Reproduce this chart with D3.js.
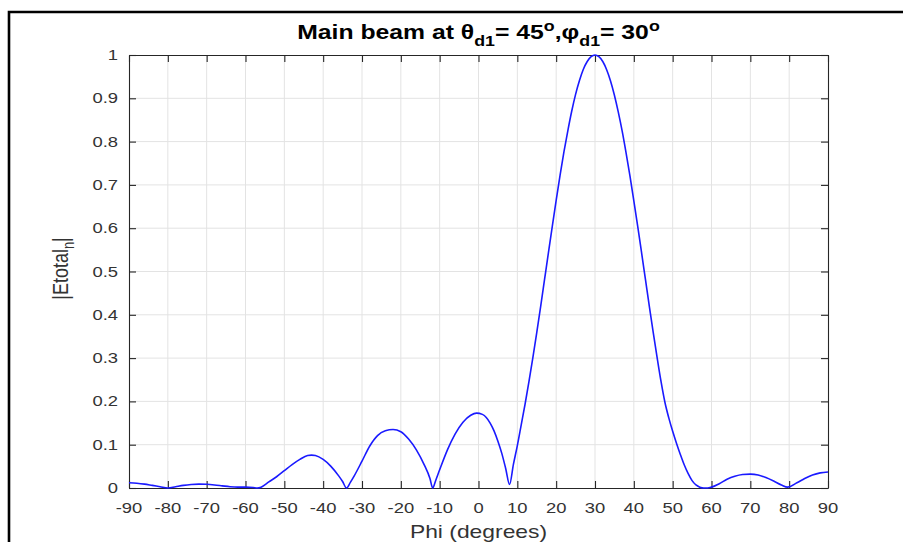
<!DOCTYPE html>
<html>
<head>
<meta charset="utf-8">
<script src="https://cdn.jsdelivr.net/npm/d3@7"></script>
<style>
  html, body { margin: 0; padding: 0; background: #fff; }
  svg { display: block; }
  text { font-family: "Liberation Sans", Arial, Helvetica, sans-serif; }
</style>
</head>
<body>
<svg id="chart" width="903" height="542"></svg>
<script>
// Normalised total field |Etotal|_n versus azimuth angle phi (theta = 45 deg)
const phiDeg = [
  -90, -88, -86, -84, -82, -80, -78, -76, -74, -72, -70, -68, -66, -64, -62, -60, -58, -57, -56,
  -54, -52, -50, -48, -46, -44, -43, -42, -40, -38, -36, -35, -34, -33, -32, -30, -28, -26, -24,
  -22, -20, -18, -16, -14, -12.5, -11.8, -11, -10, -8, -6, -4, -2, -0.5, 1, 2, 3, 4, 5, 6, 7, 8,
  9, 10, 11, 12, 13, 14, 15, 16, 17, 18, 19, 20, 21, 22, 23, 24, 25, 26, 27, 28, 29, 30,
  31, 32, 33, 34, 35, 36, 37, 38, 39, 40, 41, 42, 43, 44, 45, 46, 47, 48, 49, 50,
  51, 52, 53, 54, 55, 56, 57, 58, 59, 60, 62, 64, 66, 68, 70, 72, 74, 76, 78, 79.6,
  82, 84, 86, 88, 90
];
const etotalN = [
  0.012, 0.011, 0.009, 0.006, 0.003, 0.000, 0.003, 0.006, 0.008, 0.009, 0.0085, 0.007, 0.005, 0.003, 0.002, 0.002, 0.001, 0.000, 0.002,
  0.014, 0.026, 0.040, 0.054, 0.066, 0.075, 0.076, 0.075, 0.066, 0.050, 0.028, 0.015, 0.000, 0.013, 0.028, 0.062, 0.097, 0.121, 0.132,
  0.135, 0.130, 0.113, 0.088, 0.054, 0.022, 0.000, 0.018, 0.042, 0.088, 0.125, 0.152, 0.168, 0.173, 0.170, 0.163, 0.150, 0.132, 0.108, 0.080, 0.045, 0.008,
  0.055, 0.098, 0.146, 0.194, 0.246, 0.301, 0.359, 0.419, 0.481, 0.543, 0.604, 0.664, 0.722, 0.776, 0.825, 0.870, 0.909, 0.941, 0.967, 0.985, 0.996, 1.000,
  0.996, 0.985, 0.966, 0.940, 0.907, 0.868, 0.824, 0.774, 0.721, 0.663, 0.604, 0.543, 0.481, 0.419, 0.359, 0.301, 0.246, 0.198, 0.162, 0.131,
  0.103, 0.077, 0.053, 0.033, 0.017, 0.007, 0.002, 0.000, 0.000, 0.002, 0.010, 0.020, 0.027, 0.031, 0.032, 0.030, 0.024, 0.016, 0.007, 0.002,
  0.012, 0.022, 0.030, 0.035, 0.037
];

const xTicks = [-90, -80, -70, -60, -50, -40, -30, -20, -10, 0, 10, 20, 30, 40, 50, 60, 70, 80, 90];
const yTicks = [0, 0.1, 0.2, 0.3, 0.4, 0.5, 0.6, 0.7, 0.8, 0.9, 1];
const yTickLabels = ["0", "0.1", "0.2", "0.3", "0.4", "0.5", "0.6", "0.7", "0.8", "0.9", "1"];

// Plot box and text geometry
const box = { left: 129, right: 828, top: 55, bottom: 488 };
const stretch = 1.27;          // horizontal widening of all lettering
const axisColor = "#262626";
const gridColor = "#e3e3e3";
const tickLen = 7;

const svg = d3.select("#chart");

const x = d3.scaleLinear().domain([-90, 90]).range([box.left, box.right]);
const y = d3.scaleLinear().domain([0, 1]).range([box.bottom, box.top]);

// Outer frame edge (left and top)
svg.append("path")
  .attr("d", "M9,542 V12 H903")
  .attr("fill", "none")
  .attr("stroke", "#000")
  .attr("stroke-width", 2.6);

// Grid
const grid = svg.append("g").attr("stroke", gridColor).attr("stroke-width", 1);
grid.selectAll("line.vx").data(xTicks.slice(1, -1)).join("line")
  .attr("x1", d => x(d)).attr("x2", d => x(d))
  .attr("y1", box.top).attr("y2", box.bottom);
grid.selectAll("line.hy").data(yTicks.slice(1, -1)).join("line")
  .attr("x1", box.left).attr("x2", box.right)
  .attr("y1", d => y(d)).attr("y2", d => y(d));

// Axes with inward ticks on all four sides
const axB = d3.axisBottom(x).tickValues(xTicks).tickSizeInner(-tickLen).tickSizeOuter(0).tickFormat("");
const axT = d3.axisTop(x).tickValues(xTicks).tickSizeInner(-tickLen).tickSizeOuter(0).tickFormat("");
const axL = d3.axisLeft(y).tickValues(yTicks).tickSizeInner(-tickLen).tickSizeOuter(0).tickFormat("");
const axR = d3.axisRight(y).tickValues(yTicks).tickSizeInner(-tickLen).tickSizeOuter(0).tickFormat("");
[[axB, `translate(0,${box.bottom})`], [axT, `translate(0,${box.top})`],
 [axL, `translate(${box.left},0)`], [axR, `translate(${box.right},0)`]].forEach(([ax, t]) => {
  const g = svg.append("g").attr("transform", t).call(ax);
  g.selectAll("path, line").attr("stroke", axisColor).attr("stroke-width", 1.1);
});

// Tick labels
const lab = svg.append("g").attr("fill", "#333").attr("font-size", 14.5);
lab.selectAll("text.xl").data(xTicks).join("text")
  .attr("text-anchor", "middle")
  .attr("transform", d => `translate(${x(d)},${box.bottom + 25}) scale(${stretch},1)`)
  .text(d => d < 0 ? "-" + Math.abs(d) : String(d));
lab.selectAll("text.yl").data(yTicks).join("text")
  .attr("text-anchor", "end")
  .attr("transform", d => `translate(${box.left - 11},${y(d) + 5}) scale(${stretch},1)`)
  .text((d, i) => yTickLabels[i]);

// Axis titles
svg.append("text")
  .attr("text-anchor", "middle")
  .attr("fill", "#333")
  .attr("font-size", 18)
  .attr("transform", `translate(${(box.left + box.right) / 2},538) scale(${stretch},1)`)
  .text("Phi (degrees)");

const yl = svg.append("text")
  .attr("text-anchor", "middle")
  .attr("fill", "#333")
  .attr("font-size", 18)
  .attr("transform", `translate(68,${(box.top + box.bottom) / 2 - 3}) scale(${stretch},1) rotate(-90)`);
yl.append("tspan").text("|Etotal");
yl.append("tspan").attr("font-size", 13).attr("dy", 5).text("n");
yl.append("tspan").attr("dy", -5).text("|");

// Title with sub/superscripts
const title = svg.append("text")
  .attr("text-anchor", "middle")
  .attr("fill", "#000")
  .attr("font-weight", "bold")
  .attr("font-size", 19.5)
  .attr("transform", `translate(${(box.left + box.right) / 2},39) scale(${stretch},1)`);
title.append("tspan").text("Main beam at θ");
title.append("tspan").attr("font-size", 14).attr("dy", 7).text("d1");
title.append("tspan").attr("dy", -7).text("= 45");
title.append("tspan").attr("font-size", 14).attr("dy", -8).text("o");
title.append("tspan").attr("dy", 8).text(",φ");
title.append("tspan").attr("font-size", 14).attr("dy", 7).text("d1");
title.append("tspan").attr("dy", -7).text("= 30");
title.append("tspan").attr("font-size", 14).attr("dy", -8).text("o");

// Pattern curve
const line = d3.line()
  .x((d, i) => x(phiDeg[i]))
  .y(d => y(d))
  .curve(d3.curveMonotoneX);
svg.append("path")
  .datum(etotalN)
  .attr("fill", "none")
  .attr("stroke", "#1a1aff")
  .attr("stroke-width", 1.6)
  .attr("stroke-linejoin", "round")
  .attr("d", line);
</script>
</body>
</html>
